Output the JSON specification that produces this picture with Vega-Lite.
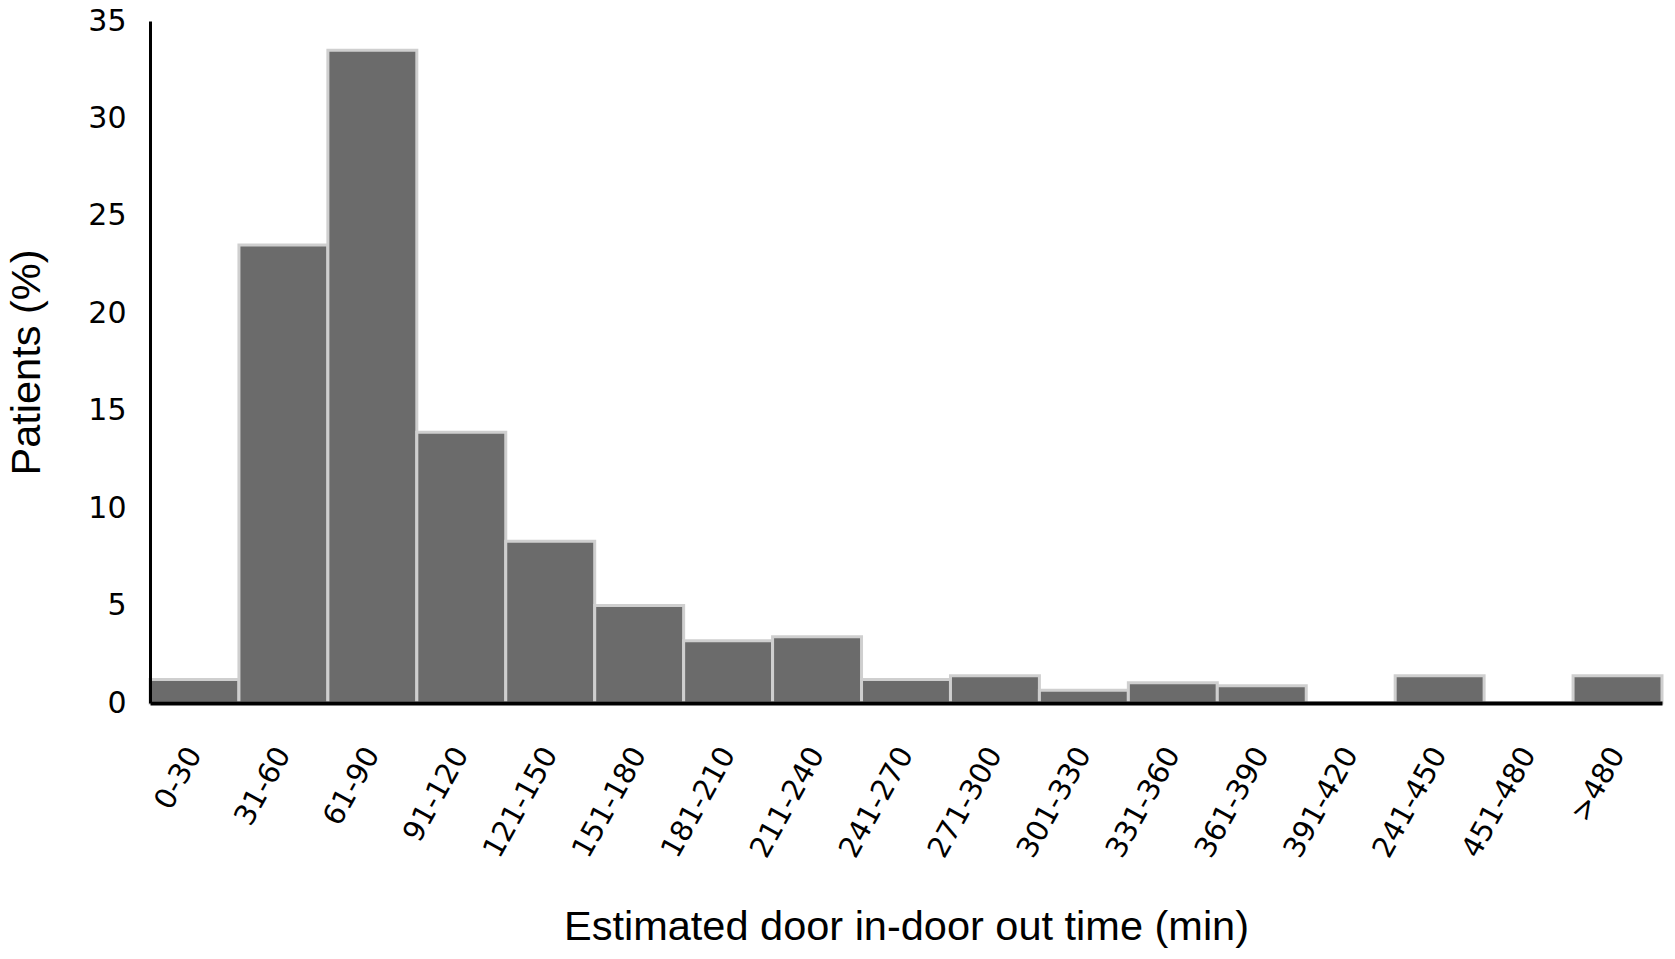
{
  "$schema": "https://vega.github.io/schema/vega-lite/v6.json",
  "width": 1512,
  "height": 682,
  "autosize": {"type": "none"},
  "padding": {"left": 150, "top": 21, "right": 13, "bottom": 256},
  "background": "white",
  "config": {"view": {"stroke": null}},
  "data": {
    "values": [
      {"range": "0-30", "pct": 1.2},
      {"range": "31-60", "pct": 23.5},
      {"range": "61-90", "pct": 33.5},
      {"range": "91-120", "pct": 13.9},
      {"range": "121-150", "pct": 8.3},
      {"range": "151-180", "pct": 5.0},
      {"range": "181-210", "pct": 3.2},
      {"range": "211-240", "pct": 3.4},
      {"range": "241-270", "pct": 1.2},
      {"range": "271-300", "pct": 1.4},
      {"range": "301-330", "pct": 0.66},
      {"range": "331-360", "pct": 1.04},
      {"range": "361-390", "pct": 0.88},
      {"range": "391-420", "pct": 0},
      {"range": "241-450", "pct": 1.4},
      {"range": "451-480", "pct": 0},
      {"range": ">480", "pct": 1.4}
    ]
  },
  "mark": {"type": "bar", "fill": "#6b6b6b", "stroke": "#cfcfcf", "strokeWidth": 3},
  "encoding": {
    "x": {
      "field": "range",
      "type": "nominal",
      "sort": null,
      "scale": {"paddingInner": 0, "paddingOuter": 0},
      "axis": {
        "zindex": 1,
        "title": "Estimated door in-door out time (min)",
        "titleFont": "Liberation Sans",
        "titleFontSize": 41.5,
        "titleFontWeight": "normal",
        "titleColor": "black",
        "titleY": 236,
        "titleBaseline": "alphabetic",
        "labelAngle": -61,
        "labelFont": "DejaVu Sans",
        "labelFontSize": 29,
        "labelColor": "black",
        "labelPadding": 46,
        "ticks": false,
        "domainColor": "black",
        "domainWidth": 4
      }
    },
    "y": {
      "field": "pct",
      "type": "quantitative",
      "scale": {"domain": [0, 35], "nice": false},
      "axis": {
        "zindex": 1,
        "title": "Patients (%)",
        "titleFont": "Liberation Sans",
        "titleFontSize": 41.5,
        "titleFontWeight": "normal",
        "titleColor": "black",
        "titleX": -111,
        "titleBaseline": "alphabetic",
        "values": [0, 5, 10, 15, 20, 25, 30, 35],
        "labelFont": "DejaVu Sans",
        "labelFontSize": 30,
        "labelColor": "black",
        "labelPadding": 24,
        "ticks": false,
        "grid": false,
        "domainColor": "black",
        "domainWidth": 3
      }
    }
  }
}
